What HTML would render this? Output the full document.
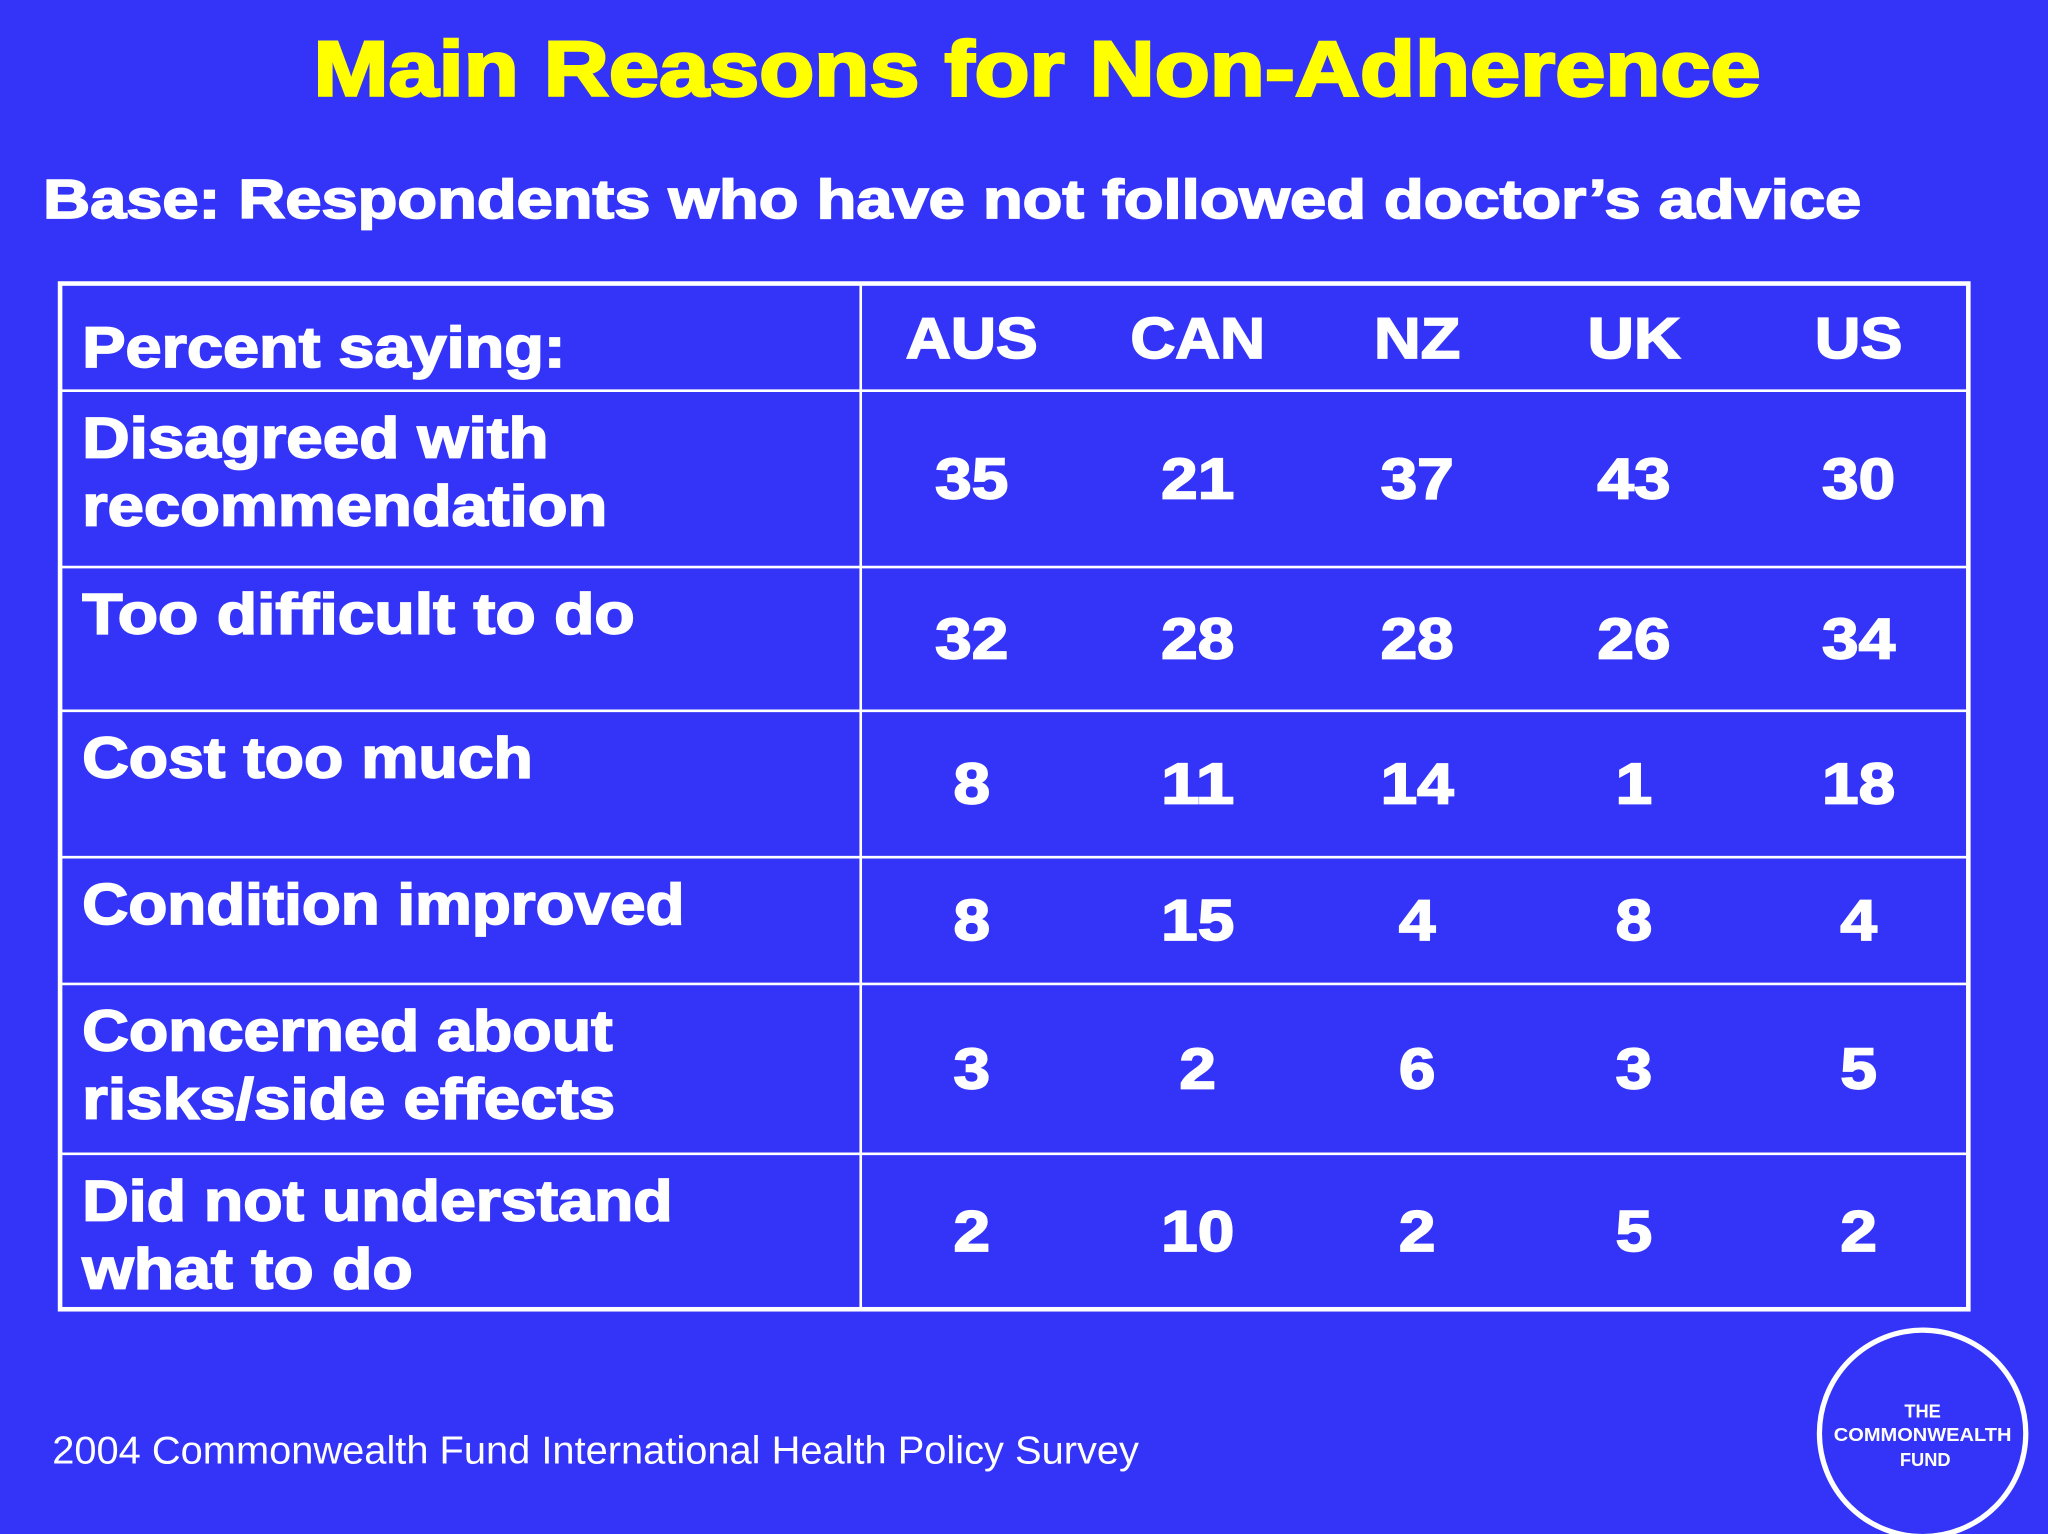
<!DOCTYPE html>
<html>
<head>
<meta charset="utf-8">
<style>
  html,body{margin:0;padding:0;background:#3434F8;}
  svg{display:block;}
  text{font-family:"Liberation Sans",sans-serif;font-weight:bold;}
  text.w{stroke:#FFFFFF;stroke-width:1.3px;}
  text.y{stroke:#FFFF00;stroke-width:2px;}
</style>
</head>
<body>
<svg id="chart" width="2048" height="1534" viewBox="0 0 1568 1174" preserveAspectRatio="none" xmlns="http://www.w3.org/2000/svg">
  <rect x="0" y="0" width="1568" height="1174" fill="#3434F8"/>
  <text class="y" x="794" y="73" text-anchor="middle" font-size="60" fill="#FFFF00" textLength="1108" lengthAdjust="spacingAndGlyphs">Main Reasons for Non-Adherence</text>
  <text class="w" x="33" y="167" font-size="42" fill="#FFFFFF" textLength="1392" lengthAdjust="spacingAndGlyphs">Base: Respondents who have not followed doctor’s advice</text>
  <g id="table">
    <rect x="46" y="217" width="1461" height="785" fill="none" stroke="#FFFFFF" stroke-width="3.5"/>
    <line x1="659" y1="217" x2="659" y2="1002" stroke="#FFFFFF" stroke-width="2"/>
    <text class="w" x="63" y="281" font-size="44" fill="#FFFFFF" textLength="370" lengthAdjust="spacingAndGlyphs">Percent saying:</text>
  </g>
  <text x="40" y="1120" font-size="30" fill="#FFFFFF" style="font-weight:normal" textLength="832" lengthAdjust="spacingAndGlyphs">2004 Commonwealth Fund International Health Policy Survey</text>
  <g>
    <circle cx="1472" cy="1097" r="79" fill="none" stroke="#FFFFFF" stroke-width="4"/>
    <text x="1472" y="1085" text-anchor="middle" font-size="14" fill="#FFFFFF">THE</text>
    <text x="1472" y="1103" text-anchor="middle" font-size="14" fill="#FFFFFF" textLength="136" lengthAdjust="spacingAndGlyphs">COMMONWEALTH</text>
    <text x="1474" y="1122" text-anchor="middle" font-size="14" fill="#FFFFFF">FUND</text>
  </g>
</svg>
<script>
const countries = ["AUS","CAN","NZ","UK","US"];
const rowLabels = [
  ["Disagreed with","recommendation"],
  ["Too difficult to do"],
  ["Cost too much"],
  ["Condition improved"],
  ["Concerned about","risks/side effects"],
  ["Did not understand","what to do"]
];
const aus = [35,32,8,8,3,2];
const can = [21,28,11,15,2,10];
const nz  = [37,28,14,4,6,2];
const uk  = [43,26,1,8,3,5];
const us  = [30,34,18,4,5,2];

const seriesValues = [aus, can, nz, uk, us];
const NS = "http://www.w3.org/2000/svg";
const table = document.getElementById("table");
const colCenters = [744, 917, 1085, 1251, 1423];
const headerWidths = [101, 103, 66, 71, 67];
const rowLines = [299, 434, 544, 656, 753, 883, 1002];
const labelWidths = {"Disagreed with":357,"recommendation":402,"Too difficult to do":423,"Cost too much":345,"Condition improved":461,"Concerned about":406,"risks/side effects":408,"Did not understand":452,"what to do":253};

function mk(tag, attrs){ const e=document.createElementNS(NS,tag); for(const k in attrs) e.setAttribute(k,attrs[k]); return e; }

countries.forEach((c,i)=>{
  const t = mk("text",{class:"w", x:colCenters[i], y:274, "text-anchor":"middle", "font-size":44, fill:"#FFFFFF", textLength:headerWidths[i], lengthAdjust:"spacingAndGlyphs"});
  t.textContent = c;
  
  
  table.appendChild(t);
});

rowLabels.forEach((lines, r)=>{
  const top = rowLines[r], bottom = rowLines[r+1];
  const ln = mk("line",{x1:46, y1:top, x2:1507, y2:top, stroke:"#FFFFFF", "stroke-width":2});
  
  
  table.appendChild(ln);
  lines.forEach((txt, j)=>{
    const t = mk("text",{class:"w", x:63, y:top+51+j*52, "font-size":44, fill:"#FFFFFF", textLength:labelWidths[txt]||(txt.length*24), lengthAdjust:"spacingAndGlyphs"});
    t.textContent = txt;
    
    
    table.appendChild(t);
  });
  const mid = (top+bottom)/2;
  seriesValues.forEach((vals, c)=>{
    const s = String(vals[r]);
    const t = mk("text",{class:"w", x:colCenters[c], y:mid+15, "text-anchor":"middle", "font-size":44, fill:"#FFFFFF", textLength:s.length*28, lengthAdjust:"spacingAndGlyphs"});
    t.textContent = s;
    
    
    table.appendChild(t);
  });
});
</script>
</body>
</html>
